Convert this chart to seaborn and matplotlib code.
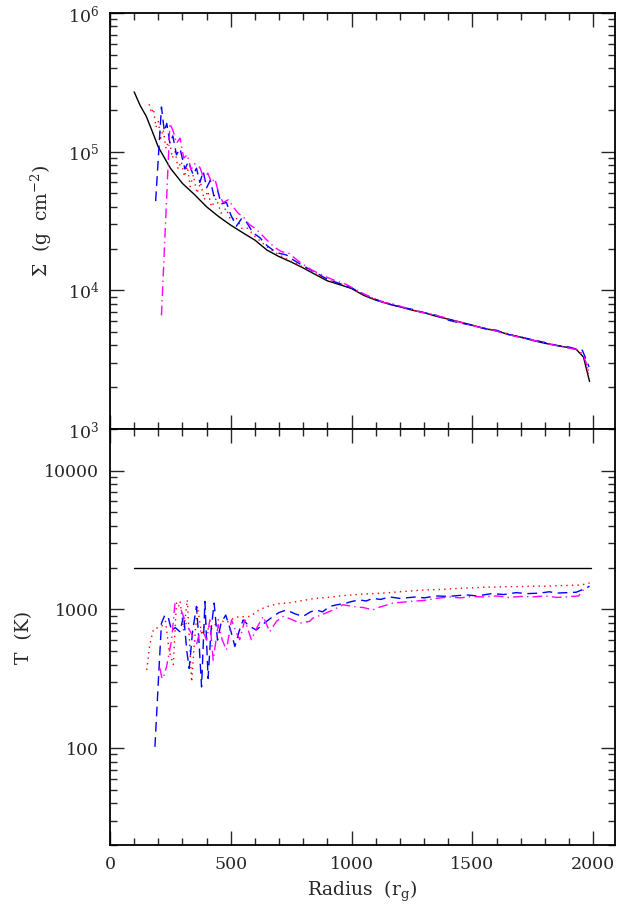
import math

import matplotlib
matplotlib.use("Agg")
import matplotlib.pyplot as plt
import matplotlib.ticker as mticker
import seaborn as sns

# --- Données ---
# Panneau haut : densité de surface Sigma (g cm^-2)
r_sig_black = [100, 125, 150, 175, 200, 250, 300, 350, 400, 450, 500, 550, 600, 650, 700,
               750, 800, 850, 900, 950, 1000, 1050, 1100, 1150, 1200, 1250, 1300, 1350,
               1400, 1450, 1500, 1550, 1600, 1650, 1700, 1750, 1800, 1850, 1900, 1930,
               1960, 1985]
sig_black = [2.7e5, 2.15e5, 1.8e5, 1.4e5, 1.08e5, 7.6e4, 5.9e4, 4.9e4, 4.0e4, 3.4e4, 2.95e4,
             2.6e4, 2.3e4, 1.95e4, 1.75e4, 1.6e4, 1.45e4, 1.3e4, 1.17e4, 1.1e4, 1.03e4,
             9.2e3, 8.5e3, 8.0e3, 7.6e3, 7.2e3, 6.9e3, 6.5e3, 6.2e3, 5.9e3, 5.6e3, 5.3e3,
             5.1e3, 4.8e3, 4.6e3, 4.35e3, 4.15e3, 4.0e3, 3.85e3, 3.75e3, 3.3e3, 2.2e3]

r_sig_red = [162, 172, 180, 190, 200, 210, 220, 232, 245, 258, 270, 282, 295, 308, 320, 332,
             345, 360, 375, 390, 405, 420, 440, 460, 480, 500, 520, 545, 570, 600, 630, 660,
             700, 750, 800, 850, 900, 950, 1000, 1050, 1100, 1150, 1200, 1250, 1300, 1350,
             1400, 1450, 1500, 1550, 1600, 1650, 1700, 1750, 1800, 1850, 1900, 1940, 1965,
             1980]
sig_red = [2.2e5, 1.9e5, 2.05e5, 1.5e5, 1.65e5, 1.25e5, 1.45e5, 1.05e5, 1.25e5, 9.0e4, 1.0e5,
           7.5e4, 8.5e4, 6.6e4, 7.8e4, 5.6e4, 6.8e4, 5.0e4, 6.0e4, 4.5e4, 5.2e4, 4.0e4,
           4.6e4, 3.6e4, 3.9e4, 3.2e4, 3.4e4, 2.8e4, 2.8e4, 2.45e4, 2.2e4, 2.0e4, 1.8e4,
           1.62e4, 1.47e4, 1.32e4, 1.19e4, 1.12e4, 1.04e4, 9.3e3, 8.6e3, 8.1e3, 7.7e3,
           7.2e3, 6.9e3, 6.6e3, 6.2e3, 5.9e3, 5.6e3, 5.35e3, 5.1e3, 4.85e3, 4.6e3, 4.4e3,
           4.2e3, 4.0e3, 3.85e3, 3.7e3, 3.3e3, 2.5e3]

r_sig_blue = [189, 213, 225, 235, 248, 260, 275, 290, 310, 325, 344, 358, 372, 386, 400, 415,
              430, 445, 460, 482, 500, 523, 545, 565, 592, 620, 650, 675, 700, 730, 758, 800,
              850, 900, 950, 1000, 1050, 1100, 1150, 1200, 1250, 1300, 1350, 1400, 1450,
              1500, 1550, 1600, 1650, 1700, 1750, 1800, 1850, 1900, 1935, 1955, 1970, 1983]
sig_blue = [4.4e4, 2.1e5, 1.4e5, 1.6e5, 1.15e5, 1.3e5, 9.5e4, 1.05e5, 7.5e4, 8.5e4, 6.8e4,
            7.6e4, 6.0e4, 7.2e4, 5.5e4, 6.2e4, 4.8e4, 5.3e4, 4.2e4, 4.3e4, 3.5e4, 2.9e4,
            3.3e4, 3.1e4, 2.6e4, 2.4e4, 2.1e4, 1.95e4, 1.85e4, 1.8e4, 1.66e4, 1.5e4,
            1.35e4, 1.2e4, 1.12e4, 1.04e4, 9.4e3, 8.6e3, 8.0e3, 7.6e3, 7.3e3, 6.9e3,
            6.6e3, 6.1e3, 5.8e3, 5.6e3, 5.3e3, 5.15e3, 4.8e3, 4.6e3, 4.4e3, 4.2e3, 4.0e3,
            3.9e3, 3.75e3, 3.7e3, 3.2e3, 2.8e3]

r_sig_mag = [213, 248, 262, 275, 290, 305, 320, 335, 350, 372, 390, 405, 420, 434, 450, 468,
             490, 510, 530, 551, 575, 600, 620, 650, 680, 710, 740, 785, 830, 880, 930, 980,
             1030, 1080, 1130, 1180, 1230, 1280, 1330, 1380, 1430, 1480, 1530, 1580, 1630,
             1680, 1730, 1780, 1830, 1880, 1930, 1960, 1982]
sig_mag = [6.6e3, 1.6e5, 1.4e5, 1.15e5, 1.25e5, 9.0e4, 9.5e4, 7.4e4, 8.2e4, 7.7e4, 6.3e4,
           7.0e4, 6.0e4, 6.4e4, 5.0e4, 4.3e4, 4.5e4, 4.0e4, 3.6e4, 3.4e4, 3.0e4, 2.8e4,
           2.6e4, 2.3e4, 2.05e4, 1.9e4, 1.85e4, 1.6e4, 1.42e4, 1.28e4, 1.18e4, 1.1e4,
           9.8e3, 8.9e3, 8.2e3, 7.9e3, 7.4e3, 7.0e3, 6.7e3, 6.4e3, 6.0e3, 5.7e3, 5.4e3,
           5.2e3, 4.9e3, 4.65e3, 4.45e3, 4.25e3, 4.05e3, 3.9e3, 3.75e3, 3.4e3, 2.6e3]

# Panneau bas : température T (K)
r_t_black = [100, 1990]
t_black = [2000, 2000]

r_t_red = [152, 165, 180, 200, 215, 230, 245, 262, 275, 290, 305, 320, 338, 350, 362, 380,
           395, 410, 430, 450, 480, 520, 580, 620, 660, 700, 750, 800, 850, 900, 950, 1000,
           1050, 1130, 1200, 1250, 1300, 1350, 1400, 1450, 1500, 1550, 1600, 1650, 1700,
           1750, 1800, 1850, 1900, 1950, 1985]
t_red = [366, 560, 720, 740, 760, 820, 500, 400, 1110, 1150, 700, 1170, 300, 600, 1050, 650,
         800, 700, 750, 850, 800, 880, 890, 1000, 1060, 1100, 1120, 1160, 1200, 1220, 1250,
         1270, 1290, 1310, 1340, 1360, 1380, 1390, 1400, 1420, 1430, 1445, 1450, 1460,
         1460, 1470, 1470, 1480, 1490, 1500, 1550]

r_t_blue = [186, 200, 213, 227, 241, 255, 270, 289, 305, 318, 328, 342, 358, 368, 379, 393,
            406, 418, 431, 445, 460, 479, 500, 517, 535, 551, 575, 606, 640, 675, 700, 730,
            765, 799, 830, 854, 880, 909, 940, 978, 1000, 1033, 1060, 1088, 1120, 1157,
            1200, 1267, 1300, 1350, 1400, 1474, 1520, 1580, 1630, 1680, 1730, 1780, 1818,
            1850, 1887, 1930, 1970, 1985]
t_blue = [102, 300, 795, 910, 880, 700, 740, 690, 900, 500, 375, 700, 1050, 600, 276, 1140,
          318, 700, 1110, 600, 800, 910, 700, 540, 700, 840, 760, 710, 800, 890, 950, 990,
          930, 890, 960, 990, 960, 1050, 1080, 1110, 1140, 1170, 1150, 1200, 1180, 1230,
          1200, 1230, 1210, 1250, 1240, 1273, 1250, 1300, 1280, 1320, 1300, 1310, 1340,
          1310, 1320, 1330, 1422, 1470]

r_t_mag = [207, 215, 220, 234, 255, 269, 289, 317, 344, 358, 372, 386, 400, 413, 427, 448,
           465, 482, 503, 520, 537, 558, 585, 610, 634, 661, 689, 716, 750, 785, 826, 840,
           880, 923, 964, 1006, 1050, 1088, 1102, 1171, 1240, 1300, 1350, 1405, 1450, 1500,
           1543, 1600, 1650, 1700, 1750, 1800, 1850, 1887, 1940, 1970]
t_mag = [375, 318, 318, 386, 605, 1110, 1050, 775, 635, 555, 700, 690, 600, 840, 430, 775,
         600, 510, 840, 700, 605, 840, 605, 750, 890, 690, 820, 890, 850, 795, 820, 865, 920,
         990, 1080, 1050, 1030, 990, 1020, 1110, 1140, 1160, 1200, 1230, 1210, 1240, 1230,
         1250, 1220, 1240, 1230, 1250, 1220, 1230, 1250, 1460]

SERIES_STYLE = {
    "black": ("black", "-"),
    "red": ("#ff0000", (0, (1, 3))),
    "blue": ("#0000ff", (0, (7, 4))),
    "mag": ("#ff00ff", (0, (7, 3, 1, 3))),
}


def draw(ax, x, y, key):
    color, ls = SERIES_STYLE[key]
    sns.lineplot(x=x, y=y, ax=ax, color=color, linestyle=ls, linewidth=1.0,
                 sort=False, estimator=None)


def style_axis(ax):
    ax.set_xlim(0, 2090)
    ax.xaxis.set_major_locator(mticker.MultipleLocator(500))
    ax.xaxis.set_minor_locator(mticker.MultipleLocator(100))
    ax.tick_params(which="both", direction="in", top=True, right=True, width=1.0,
                   labelsize=12.5, pad=8)
    ax.tick_params(which="major", length=10)
    ax.tick_params(which="minor", length=5)
    for sp in ax.spines.values():
        sp.set_linewidth(1.3)
        sp.set_color("black")


sns.set_style("ticks")
plt.rcParams["font.family"] = ["DejaVu Serif"]
plt.rcParams["mathtext.fontset"] = "dejavuserif"
plt.rcParams["font.size"] = 13.5

fig = plt.figure(figsize=(6.18, 9.05), dpi=100)
ax1 = fig.add_axes([0.178, 0.526, 0.817, 0.4596])
ax2 = fig.add_axes([0.178, 0.0663, 0.817, 0.4597])

# Panneau haut
draw(ax1, r_sig_black, sig_black, "black")
draw(ax1, r_sig_red, sig_red, "red")
draw(ax1, r_sig_blue, sig_blue, "blue")
draw(ax1, r_sig_mag, sig_mag, "mag")
ax1.set_yscale("log")
ax1.set_ylim(1e3, 1e6)
style_axis(ax1)
ax1.set_xticklabels([])
ax1.yaxis.set_major_formatter(
    mticker.FuncFormatter(lambda v, p: r"$\mathregular{10^{%d}}$" % round(math.log10(v))))
ax1.set_xlabel("")
ax1.set_ylabel(r"$\Sigma$  (g  cm$^{-2}$)", labelpad=10)

# Panneau bas
draw(ax2, r_t_black, t_black, "black")
draw(ax2, r_t_red, t_red, "red")
draw(ax2, r_t_blue, t_blue, "blue")
draw(ax2, r_t_mag, t_mag, "mag")
ax2.set_yscale("log")
ax2.set_ylim(20, 20000)
style_axis(ax2)
ax2.yaxis.set_major_locator(mticker.FixedLocator([100, 1000, 10000]))
ax2.yaxis.set_major_formatter(mticker.FixedFormatter(["100", "1000", "10000"]))
ax2.set_xlabel(r"Radius  (r$_{\mathregular{g}}$)", labelpad=4)
ax2.set_ylabel("T  (K)", labelpad=8)

fig.savefig("out.png", dpi=100)
